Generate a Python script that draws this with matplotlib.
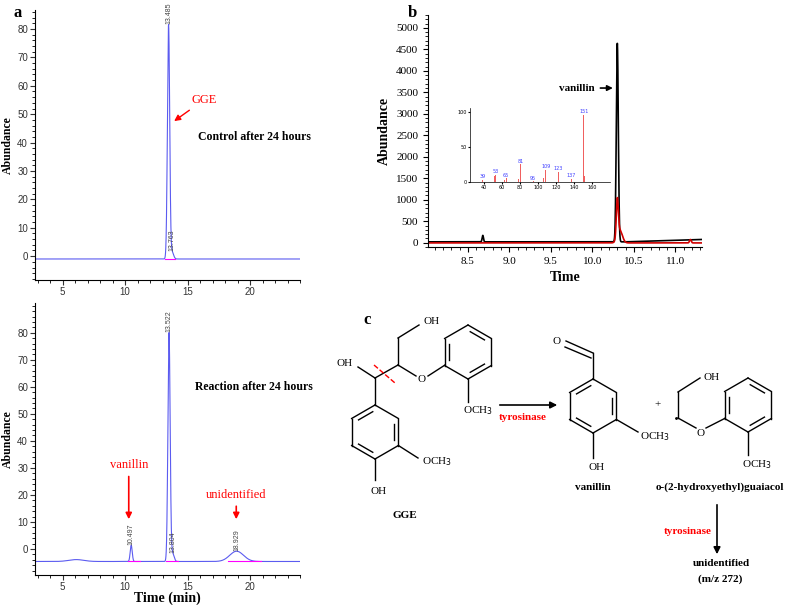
import numpy as np
import matplotlib.pyplot as plt

# ---- data ----
# panel a: chromatogram peaks (retention time, height above baseline, width)
ctrl_peaks_rt = [13.485, 13.763]
ctrl_peaks_h = [82.5, 2.5]
ctrl_peaks_w = [0.09, 0.12]
ctrl_base = -1.0

rxn_peaks_rt = [10.497, 13.522, 13.804, 18.929, 6.1]
rxn_peaks_h = [6.0, 84.5, 3.0, 3.8, 0.7]
rxn_peaks_w = [0.08, 0.09, 0.12, 0.55, 0.6]
rxn_base = -4.6

# panel b: GC-MS traces
b_black_rt = [8.68, 10.30]
b_black_h = [150, 4620]
b_red_rt = [10.30, 10.33, 11.18]
b_red_h = [870, 300, 80]
# inset mass spectrum (m/z, relative intensity)
ms_mz = [39, 52, 53, 63, 65, 79, 81, 95, 106, 109, 123, 137, 151, 152]
ms_int = [3, 8, 10, 3, 5, 4, 25, 1, 5, 17, 14, 4, 95, 8]

SERIF = "Liberation Serif"
SANS = "Liberation Sans"


def trace(x, rts, hs, ws, base):
    y = np.full_like(x, base)
    for r, h, w in zip(rts, hs, ws):
        y = y + h * np.exp(-0.5 * ((x - r) / w) ** 2)
    return y


fig = plt.figure(figsize=(7.85, 6.05), dpi=100)
W, H = 785, 605


def ax_px(l, t, r, b):
    return fig.add_axes([l / W, 1 - b / H, (r - l) / W, (b - t) / H])


blue = "#5b5bf0"

# ---- panel a top ----
axt = ax_px(35, 10, 300, 280)
x = np.linspace(2.8, 24, 3000)
axt.plot(x, trace(x, ctrl_peaks_rt, ctrl_peaks_h, ctrl_peaks_w, ctrl_base), color=blue, lw=0.8)
axt.plot([13.2, 14.0], [ctrl_base, ctrl_base], color="magenta", lw=0.8)
axt.set_xlim(2.8, 24)
axt.set_ylim(-8.4, 86.7)
axt.set_xticks([5, 10, 15, 20])
axt.set_yticks(range(0, 90, 10))
axt.minorticks_on()
axt.annotate("GGE", xy=(13.75, 47), xytext=(15.3, 54), color="red", fontsize=9, family=SERIF,
             arrowprops=dict(arrowstyle="-|>", color="red", lw=1))
axt.text(15.8, 41, "Control after 24 hours", fontsize=8.5, fontweight="bold", family=SERIF)

# ---- panel a bottom ----
axb = ax_px(35, 303, 300, 575)
axb.plot(x, trace(x, rxn_peaks_rt, rxn_peaks_h, rxn_peaks_w, rxn_base), color=blue, lw=0.8)
for seg in ([10.2, 11.2], [13.3, 14.2], [18.2, 20.9]):
    axb.plot(seg, [rxn_base, rxn_base], color="magenta", lw=0.8)
axb.set_xlim(2.8, 24)
axb.set_ylim(-9.6, 91)
axb.set_xticks([5, 10, 15, 20])
axb.set_yticks(range(0, 90, 10))
axb.minorticks_on()
axb.annotate("vanillin", xy=(10.3, 10), xytext=(10.3, 30), color="red", fontsize=9, family=SERIF,
             ha="center", arrowprops=dict(arrowstyle="-|>", color="red", lw=1.2))
axb.annotate("unidentified", xy=(18.9, 10), xytext=(18.9, 19), color="red", fontsize=9, family=SERIF,
             ha="center", arrowprops=dict(arrowstyle="-|>", color="red", lw=1.2))
axb.text(15.6, 59, "Reaction after 24 hours", fontsize=8.5, fontweight="bold", family=SERIF)
axb.set_xlabel("Time (min)", fontsize=10, fontweight="bold", family=SERIF, labelpad=0)

for a, rts, hs, base in ((axt, ctrl_peaks_rt, ctrl_peaks_h, ctrl_base),
                         (axb, rxn_peaks_rt[:4], rxn_peaks_h[:4], rxn_base)):
    for r, h in zip(rts, hs):
        a.text(r, base + h + 0.2, f"{r:.3f}", rotation=90, fontsize=5, color="#444",
               ha="center", va="bottom", family=SANS)
    a.set_ylabel("Abundance", fontsize=8.5, fontweight="bold", family=SERIF)
    a.yaxis.set_label_coords(-0.08, 0.5)
    a.spines[["top", "right"]].set_visible(False)
    a.tick_params(labelsize=7, colors="#333", pad=1.5)
    for lab in a.get_xticklabels() + a.get_yticklabels():
        lab.set_family(SANS)

# ---- panel b ----
axc = ax_px(428, 15, 702, 247)
xb = np.linspace(8.02, 11.32, 3000)
black = trace(xb, b_black_rt, b_black_h, [0.008, 0.012], 20) + 60 * (xb > 10.4) * (xb - 10.4)
red = trace(xb, b_red_rt, b_red_h, [0.012, 0.03, 0.01], -5)
axc.plot(xb, black, color="black", lw=1.2)
axc.plot(xb, red, color="#d00000", lw=1.2)
axc.set_xlim(8.02, 11.32)
axc.set_ylim(-100, 5300)
axc.set_xticks([8.5, 9.0, 9.5, 10.0, 10.5, 11.0])
axc.set_yticks(range(0, 5001, 500))
axc.minorticks_on()
axc.spines[["top", "right"]].set_visible(False)
axc.tick_params(labelsize=8)
for lab in axc.get_xticklabels() + axc.get_yticklabels():
    lab.set_family(SERIF)
axc.set_xlabel("Time", fontsize=10, fontweight="bold", family=SERIF)
axc.set_ylabel("Abundance", fontsize=10, fontweight="bold", family=SERIF)
axc.annotate("vanillin", xy=(10.28, 3600), xytext=(9.6, 3600), fontsize=8, fontweight="bold",
             family=SERIF, va="center", arrowprops=dict(arrowstyle="-|>", color="black", lw=1.2))

ins = ax_px(470, 108, 610, 182)
ins.bar(ms_mz, ms_int, width=1.2, color="#f06060")
for m, v in zip(ms_mz, ms_int):
    if m in (39, 53, 65, 81, 95, 109, 123, 137, 151):
        ins.text(m, v + 1, str(m), fontsize=3.5, color="#4040ff", ha="center", va="bottom")
ins.set_xlim(25, 180)
ins.set_ylim(0, 105)
ins.set_xticks([40, 60, 80, 100, 120, 140, 160])
ins.set_yticks([0, 50, 100])
ins.tick_params(labelsize=3.5, length=1.5, pad=1)
ins.spines[["top", "right"]].set_visible(False)
ins.patch.set_alpha(0)
for s in ins.spines.values():
    s.set_linewidth(0.5)

# ---- panel labels ----
fig.text(13 / W, 1 - 13 / H, "a", fontsize=12, fontweight="bold", family=SERIF, va="center")
fig.text(408 / W, 1 - 13 / H, "b", fontsize=12, fontweight="bold", family=SERIF, va="center")

# ---- panel c: reaction scheme (pixel frame) ----
sc = fig.add_axes([0, 0, 1, 1])
sc.set_xlim(0, W)
sc.set_ylim(H, 0)
sc.axis("off")


def bond(p, q, **kw):
    sc.plot([p[0], q[0]], [p[1], q[1]], color="black", lw=1.0, **kw)


def ring(cx, cy, r, dbl):
    ang = np.deg2rad(np.arange(6) * 60 - 90)
    pts = [(cx + r * np.cos(a), cy + r * np.sin(a)) for a in ang]
    for i in range(6):
        p, q = pts[i], pts[(i + 1) % 6]
        bond(p, q)
        if i in dbl:
            k = 0.8
            p2 = (cx + (p[0] - cx) * k, cy + (p[1] - cy) * k)
            q2 = (cx + (q[0] - cx) * k, cy + (q[1] - cy) * k)
            m = 0.12
            bond((p2[0] + (q2[0] - p2[0]) * m, p2[1] + (q2[1] - p2[1]) * m),
                 (q2[0] - (q2[0] - p2[0]) * m, q2[1] - (q2[1] - p2[1]) * m))
    return pts


def label(xx, yy, s, **kw):
    kw.setdefault("fontsize", 8)
    sc.text(xx, yy, s, family=SERIF, ha="center", va="center", **kw)


och3 = r"OCH$_3$"
fig.text(363 / W, 1 - 320 / H, "c", fontsize=12, fontweight="bold", family=SERIF, va="center")

# GGE
g = ring(375, 432, 27, dbl=[1, 3, 5])
bond(g[0], (375, 378))
bond((375, 378), (358, 367))
label(345, 363, "OH")
bond((375, 378), (398, 365))
bond((398, 365), (398, 338))
bond((398, 338), (419, 325))
label(432, 322, "OH")
bond((398, 365), (416, 376))
label(422, 379, "O")
bond((428, 376), (445, 365))
g2 = ring(468, 352, 27, dbl=[0, 2, 4])
bond(g2[3], (468, 402))
label(478, 411, och3)
bond(g[2], (418, 458))
label(437, 462, och3)
bond(g[3], (375, 480))
label(379, 491, "OH")
sc.plot([374, 395], [365, 383], color="red", lw=1, ls="--")
label(405, 515, "GGE", fontweight="bold")

sc.annotate("", xy=(560, 405), xytext=(497, 405),
            arrowprops=dict(arrowstyle="-|>", color="black", lw=1.2))
label(523, 417, "tyrosinase", color="red", fontweight="bold")

# vanillin
v = ring(593, 406, 27, dbl=[1, 3, 5])
bond(v[0], (593, 353))
bond((593, 353), (566, 341))
bond((591, 358), (565, 347))
label(557, 341, "O")
bond(v[2], (638, 432))
label(655, 437, och3)
bond(v[3], (593, 458))
label(597, 467, "OH")
label(593, 487, "vanillin", fontweight="bold")
label(658, 405, "+")

# o-(2-hydroxyethyl)guaiacol
gu = ring(748, 405, 27, dbl=[0, 2, 4])
bond(gu[4], (706, 428))
label(701, 433, "O")
bond((696, 428), (678, 418))
sc.plot([676], [418], "k.", ms=2)
bond((678, 418), (678, 392))
bond((678, 392), (700, 378))
label(712, 377, "OH")
bond(gu[3], (748, 455))
label(757, 465, och3)
label(720, 487, "o-(2-hydroxyethyl)guaiacol", fontweight="bold")

sc.annotate("", xy=(717, 557), xytext=(717, 502),
            arrowprops=dict(arrowstyle="-|>", color="black", lw=1.2))
label(688, 532, "tyrosinase", color="red", fontweight="bold")
label(721, 563, "unidentified", fontweight="bold")
label(720, 579, "(m/z 272)", fontweight="bold")

fig.savefig("out.png", dpi=100)
